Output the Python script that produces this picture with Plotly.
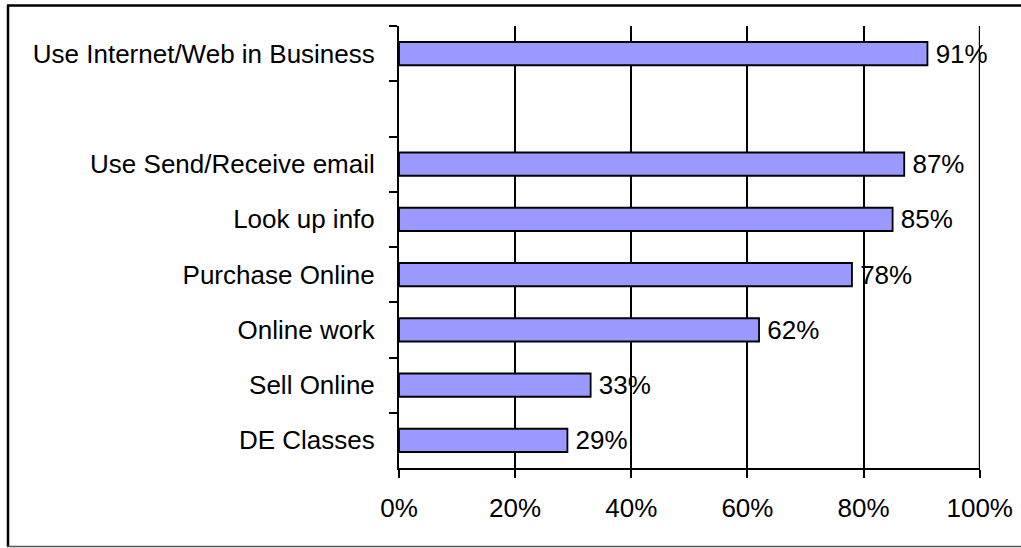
import plotly.graph_objects as go

# Survey: business use of the internet (share of respondents)
categories = [
    "Use Internet/Web in Business",
    " ",
    "Use Send/Receive email",
    "Look up info",
    "Purchase Online",
    "Online work",
    "Sell Online",
    "DE Classes",
]
shares = [0.91, None, 0.87, 0.85, 0.78, 0.62, 0.33, 0.29]
x_ticks = [0, 0.2, 0.4, 0.6, 0.8, 1.0]

W, H = 1021, 548
ML, MR, MT, MB = 399, 41, 26, 80
FONT = dict(family="Liberation Sans, Arial, sans-serif", size=26, color="black")

fig = go.Figure()
fig.add_trace(go.Bar(
    x=shares,
    y=categories,
    orientation="h",
    width=0.42,
    marker=dict(color="#9999FF", line=dict(color="black", width=1.8)),
    texttemplate="\u2009%{x:.0%}",
    textposition="outside",
    constraintext="none",
    textfont=FONT,
    cliponaxis=False,
    hoverinfo="skip",
))

fig.update_xaxes(
    range=[0, 1.0005],
    tickvals=x_ticks,
    tickformat=".0%",
    showgrid=True,
    gridcolor="black",
    gridwidth=1.8,
    showline=True,
    linecolor="black",
    linewidth=2,
    ticks="outside",
    ticklen=8,
    tickcolor="black",
    tickwidth=1.8,
    tickfont=FONT,
    ticklabelstandoff=8,
    zeroline=False,
    automargin=False,
)
fig.update_yaxes(
    type="category",
    categoryorder="array",
    categoryarray=categories,
    autorange="reversed",
    tickson="boundaries",
    ticks="outside",
    ticklen=8,
    tickcolor="black",
    tickwidth=1.8,
    showline=True,
    linecolor="black",
    linewidth=2,
    showgrid=False,
    tickfont=FONT,
    ticklabelstandoff=17,
    automargin=False,
)

# gridline at 100% sits on the plot edge, plotly skips it there
fig.add_shape(type="line", xref="x", yref="paper", layer="below",
              x0=x_ticks[-1], x1=x_ticks[-1], y0=0, y1=1,
              line=dict(color="black", width=1.8))

# outer frame around the chart (left/top/bottom visible in the picture)
def px_x(p):
    return (p - ML) / (W - ML - MR)

def px_y(p):
    return (H - MB - p) / (H - MT - MB)

fig.add_shape(type="line", xref="paper", yref="paper",
              x0=px_x(7), x1=px_x(1030), y0=px_y(5.5), y1=px_y(5.5),
              line=dict(color="black", width=2.5))
fig.add_shape(type="line", xref="paper", yref="paper",
              x0=px_x(8), x1=px_x(8), y0=px_y(5.5), y1=px_y(547),
              line=dict(color="black", width=2.5))
fig.add_shape(type="line", xref="paper", yref="paper",
              x0=px_x(7), x1=px_x(1030), y0=px_y(546.5), y1=px_y(546.5),
              line=dict(color="#555555", width=1.5))

fig.update_layout(
    width=W,
    height=H,
    autosize=False,
    margin=dict(l=ML, r=MR, t=MT, b=MB),
    plot_bgcolor="white",
    paper_bgcolor="white",
    showlegend=False,
    font=FONT,
)

# drop the default page margin so the figure sits at the window's corner
fig.write_html(
    "out.html",
    config=dict(displayModeBar=False, responsive=False),
    post_script="document.body.style.margin='0';document.body.style.overflow='hidden';",
)
